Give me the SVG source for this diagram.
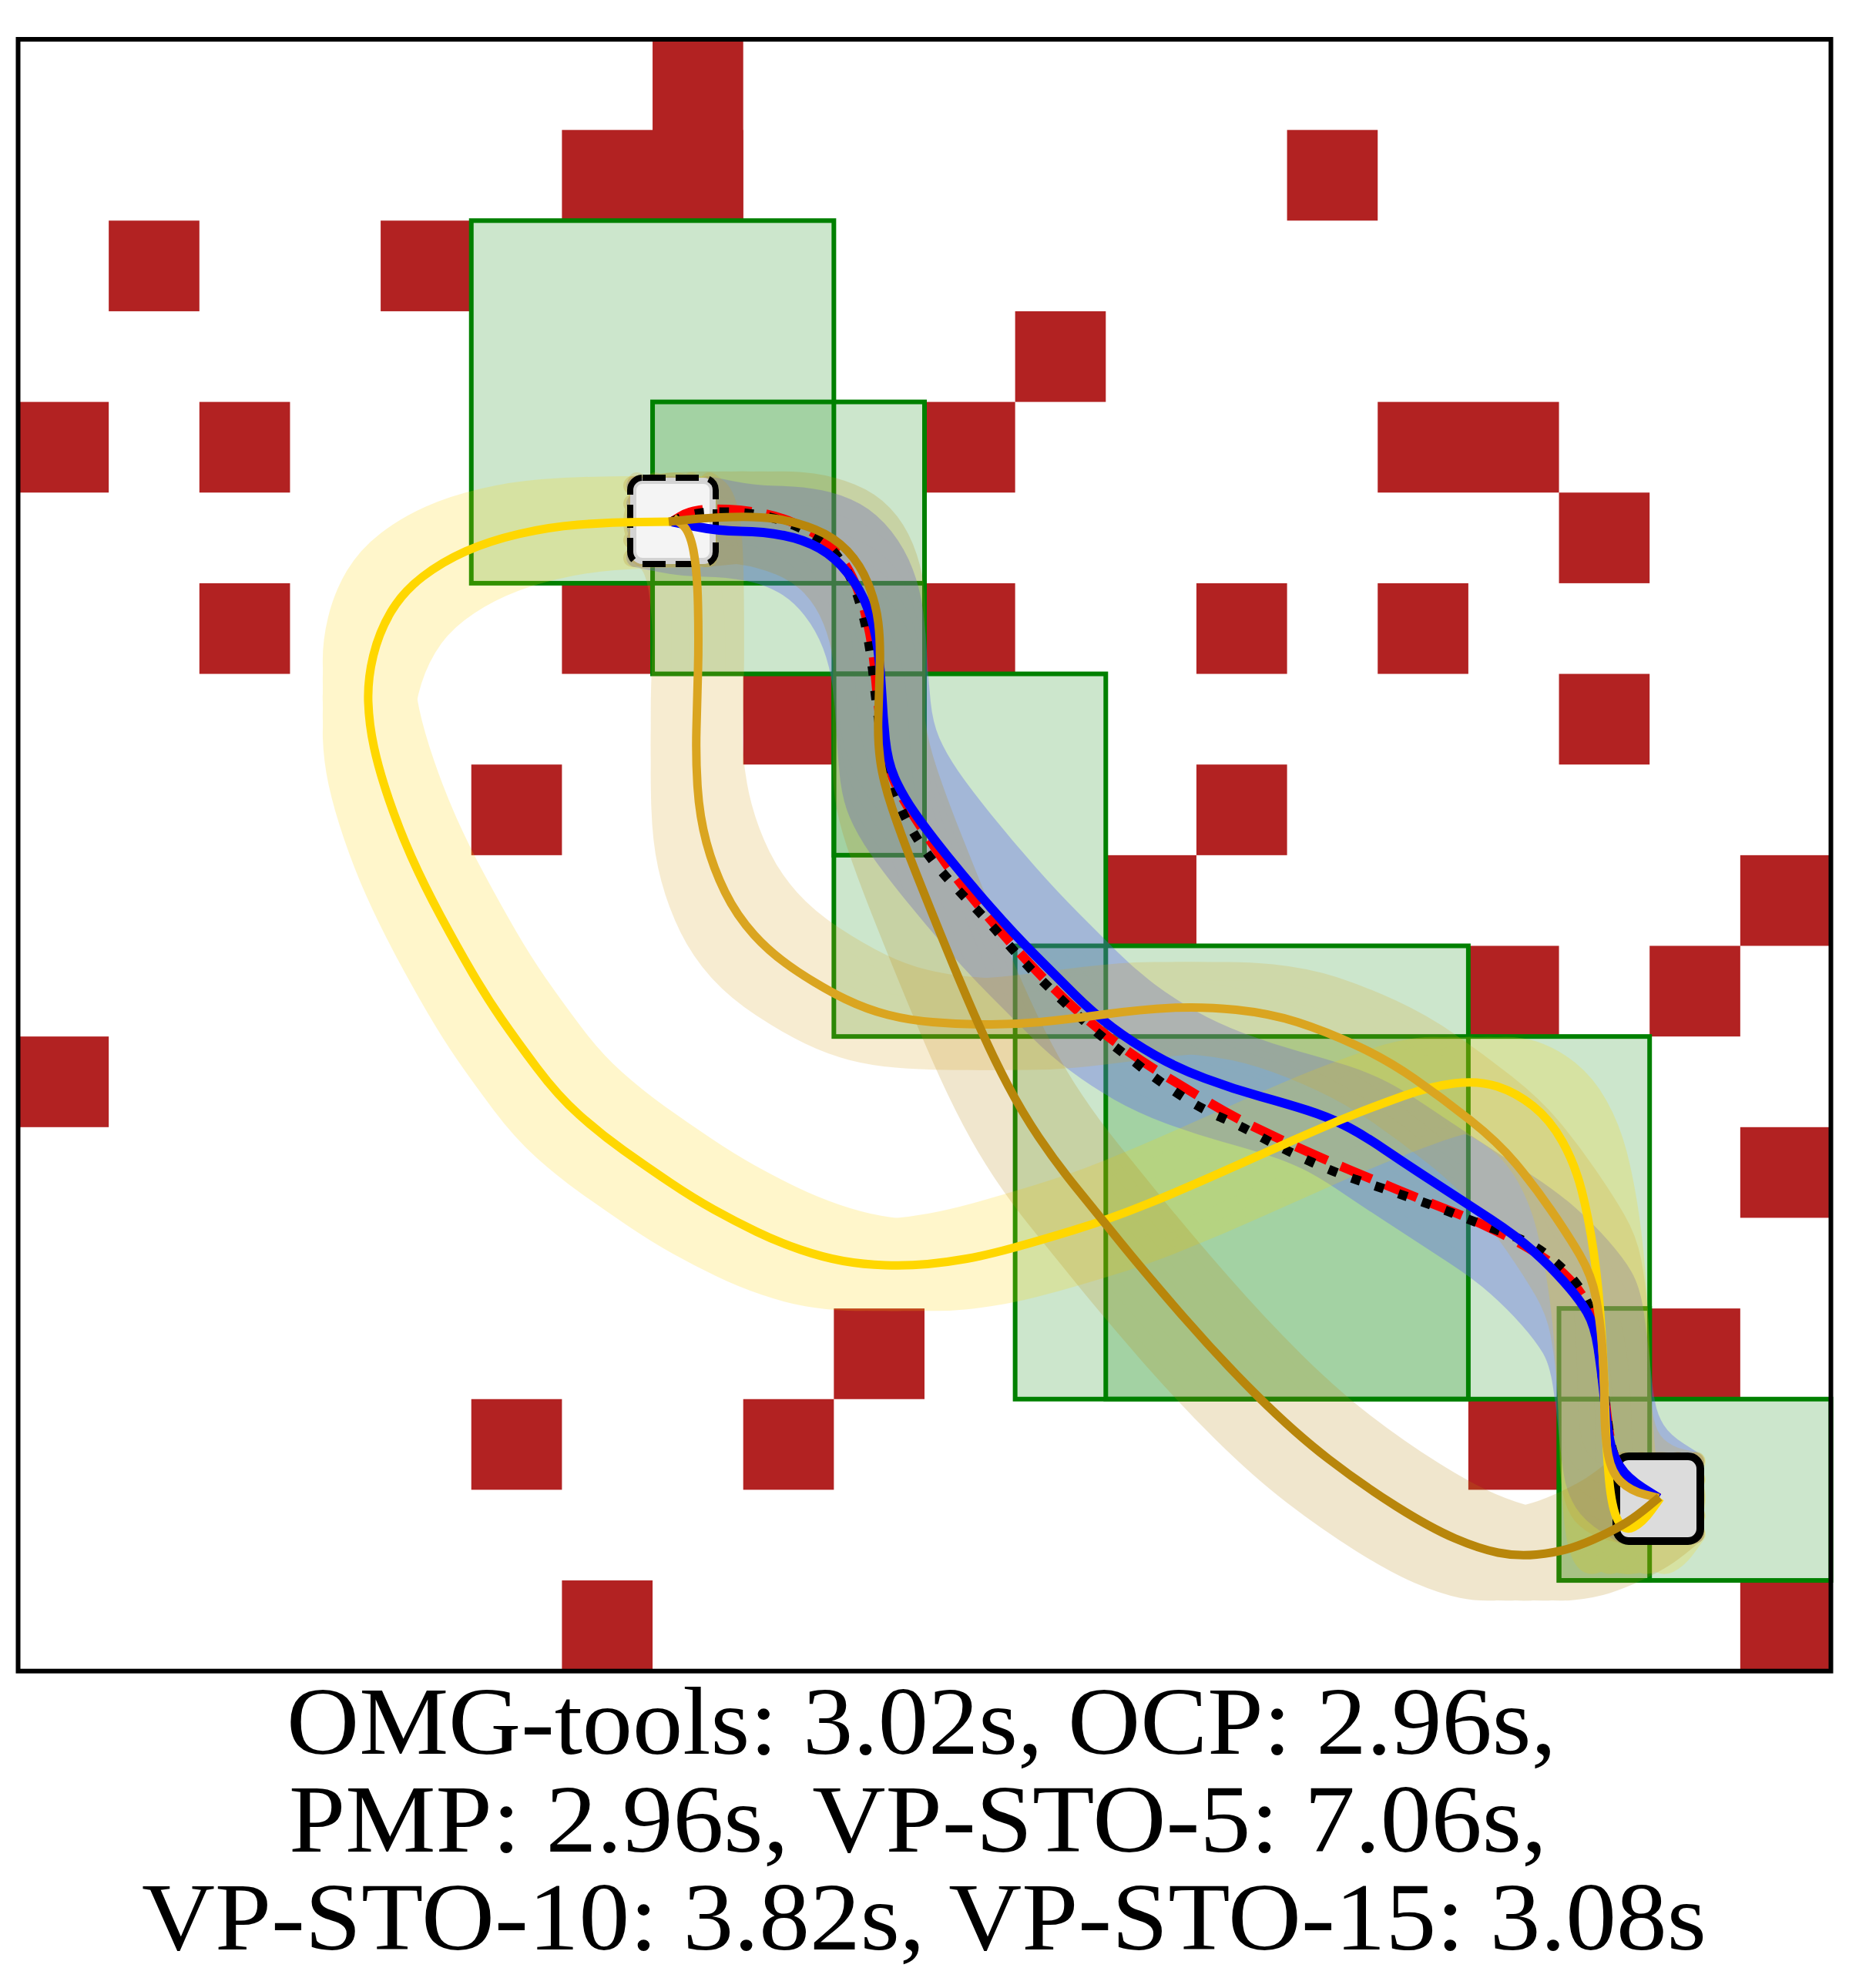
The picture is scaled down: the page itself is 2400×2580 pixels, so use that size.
<svg xmlns="http://www.w3.org/2000/svg" xmlns:xlink="http://www.w3.org/1999/xlink" width="2400" height="2580" viewBox="0 0 2400 2580">
<style>
.obs{fill:#b22222}
.free{fill:#008000;fill-opacity:0.2;stroke:#008000;stroke-width:0.051}
.band{fill:none;stroke-width:24;stroke-linecap:round;stroke-linejoin:round}
.ln{fill:none;stroke-linejoin:round}
.cap{font-family:"Liberation Serif","DejaVu Serif",serif;font-size:124px;fill:#000}
</style>
<defs>
<path id="p-blue" d="M872 677 L901.5 683 Q931 689 961.5 689.5 Q992 690 1017.5 695 Q1043 700 1063.5 711.5 Q1084 723 1100.5 744 Q1117 765 1126.5 790 Q1136 815 1139.5 842.5 Q1143 870 1144.5 900 Q1146 930 1149 959 Q1152 988 1161 1009 Q1170 1030 1186.5 1054 Q1203 1078 1230.5 1112 Q1258 1146 1287 1179 Q1316 1212 1344 1240 Q1372 1268 1395 1291 Q1418 1314 1444 1333.5 Q1470 1353 1499 1369.5 Q1528 1386 1564 1399.5 Q1600 1413 1636 1423 Q1672 1433 1697 1441 Q1722 1449 1743.5 1459.5 Q1765 1470 1797.5 1492 Q1830 1514 1865.5 1537 Q1901 1560 1934.5 1582 Q1968 1604 1990 1623.5 Q2012 1643 2031 1664.5 Q2050 1686 2060 1703 Q2070 1720 2074.5 1750 Q2079 1780 2082.5 1815 Q2086 1850 2089.5 1869 Q2093 1888 2102.5 1903 Q2112 1918 2132.5 1931 L2153 1944"/>
<path id="p-red" d="M872 677 L882.5 670.5 Q893 664 908 662 Q923 660 945 661 Q967 662 988.5 666 Q1010 670 1030 678.5 Q1050 687 1065 697.5 Q1080 708 1093 726.5 Q1106 745 1115 770 Q1124 795 1129 822.5 Q1134 850 1137 885 Q1140 920 1145 952 Q1150 984 1157.5 1005.5 Q1165 1027 1184 1056 Q1203 1085 1222 1112.5 Q1241 1140 1265 1169 Q1289 1198 1313 1225 Q1337 1252 1361 1276 Q1385 1300 1406.5 1319 Q1428 1338 1454.5 1357.5 Q1481 1377 1512 1396 Q1543 1415 1571.5 1432 Q1600 1449 1629 1463 Q1658 1477 1689 1491 Q1720 1505 1750 1517.5 Q1780 1530 1811.5 1543 Q1843 1556 1874 1568 Q1905 1580 1931.5 1592.5 Q1958 1605 1985 1620.5 Q2012 1636 2031 1654 Q2050 1672 2061 1693.5 Q2072 1715 2076 1747.5 Q2080 1780 2083.5 1815 Q2087 1850 2091 1872.5 Q2095 1895 2106.5 1909.5 Q2118 1924 2135.5 1934 L2153 1944"/>
<path id="p-black" d="M872 677 L882.5 672.5 Q893 668 908 666 Q923 664 945 664.5 Q967 665 988.5 669 Q1010 673 1030 681.5 Q1050 690 1065 700.5 Q1080 711 1092.5 729.5 Q1105 748 1113 773 Q1121 798 1126 825 Q1131 852 1134.5 886 Q1138 920 1144 957.5 Q1150 995 1159 1022.5 Q1168 1050 1184 1077.5 Q1200 1105 1220 1128.5 Q1240 1152 1262 1174.5 Q1284 1197 1307 1223.5 Q1330 1250 1352.5 1272.5 Q1375 1295 1399 1317.5 Q1423 1340 1441.5 1354 Q1460 1368 1480 1384 Q1500 1400 1528.5 1419 Q1557 1438 1583.5 1449.5 Q1610 1461 1638.5 1476.5 Q1667 1492 1700 1507 Q1733 1522 1766.5 1533 Q1800 1544 1831 1554.5 Q1862 1565 1891 1576.5 Q1920 1588 1953 1600 Q1986 1612 2003 1625 Q2020 1638 2035 1653 Q2050 1668 2060 1689 Q2070 1710 2074.5 1745 Q2079 1780 2083 1815 Q2087 1850 2091 1872.5 Q2095 1895 2106.5 1909.5 Q2118 1924 2135.5 1934 L2153 1944"/>
<path id="p-gold" d="M872 677 L830 677.5 Q788 678 750 681 Q712 684 673.5 693 Q635 702 604.5 715.5 Q574 729 548.5 748.5 Q523 768 507.5 794 Q492 820 484.5 851 Q477 882 478 911 Q479 940 485.5 970 Q492 1000 505 1038 Q518 1076 534 1112 Q550 1148 572 1189 Q594 1230 613 1262.5 Q632 1295 651 1322.5 Q670 1350 697 1386 Q724 1422 752 1447 Q780 1472 809.5 1493 Q839 1514 869.5 1534.5 Q900 1555 927 1570 Q954 1585 982 1598.5 Q1010 1612 1039.5 1622 Q1069 1632 1094.5 1636.5 Q1120 1641 1149 1642 Q1178 1643 1204 1640.5 Q1230 1638 1255 1633.5 Q1280 1629 1313 1620 Q1346 1611 1393.5 1596.5 Q1441 1582 1489 1562.5 Q1537 1543 1585 1521.5 Q1633 1500 1680.5 1479 Q1728 1458 1758.5 1446 Q1789 1434 1822.5 1422 Q1856 1410 1887.5 1406 Q1919 1402 1943.5 1410 Q1968 1418 1990 1435.5 Q2012 1453 2028 1481.5 Q2044 1510 2053 1545 Q2062 1580 2068.5 1624.5 Q2075 1669 2078.5 1724.5 Q2082 1780 2083.5 1830 Q2085 1880 2088.5 1919 Q2092 1958 2100 1973 Q2108 1988 2120 1982 Q2132 1976 2143.5 1960 L2155 1944"/>
<path id="p-goldenrod" d="M874 672 L884.5 680 Q895 688 900 714 Q905 740 906 785.5 Q907 831 906 869 Q905 907 904 945.5 Q903 984 905.5 1022 Q908 1060 917 1093.5 Q926 1127 941 1157.5 Q956 1188 979 1213.5 Q1002 1239 1035.5 1261 Q1069 1283 1097 1296.5 Q1125 1310 1152.5 1317 Q1180 1324 1210.5 1326.5 Q1241 1329 1277 1329.5 Q1313 1330 1349 1326.5 Q1385 1323 1433 1316.5 Q1481 1310 1521 1308 Q1561 1306 1604.5 1310.5 Q1648 1315 1684 1326.5 Q1720 1338 1760 1356.5 Q1800 1375 1836 1400 Q1872 1425 1908 1453.5 Q1944 1482 1967 1509.5 Q1990 1537 2012.5 1569.5 Q2035 1602 2050.5 1628.5 Q2066 1655 2071.5 1684 Q2077 1713 2079.5 1746.5 Q2082 1780 2082.5 1822.5 Q2083 1865 2087.5 1888.5 Q2092 1912 2104.5 1923.5 Q2117 1935 2135 1939.5 L2153 1944"/>
<path id="p-dgold" d="M868 677 L892.5 674.5 Q917 672 950 671 Q983 670 1008 673.5 Q1033 677 1058 687 Q1083 697 1100 715 Q1117 733 1127 758 Q1137 783 1140 808 Q1143 833 1142 866.5 Q1141 900 1140 930 Q1139 960 1142.5 986.5 Q1146 1013 1158 1049 Q1170 1085 1189 1133 Q1208 1181 1229.5 1233.5 Q1251 1286 1270 1329 Q1289 1372 1308 1408 Q1327 1444 1348.5 1476 Q1370 1508 1395 1539 Q1420 1570 1454.5 1612.5 Q1489 1655 1537 1710 Q1585 1765 1633 1812.5 Q1681 1860 1724.5 1893.5 Q1768 1927 1812.5 1955 Q1857 1983 1888.5 1996.5 Q1920 2010 1944.5 2015 Q1969 2020 1994.5 2017.5 Q2020 2015 2039 2009 Q2058 2003 2079 1993 Q2100 1983 2112.5 1975 Q2125 1967 2139.5 1955 L2154 1943"/>
</defs>
<rect width="2400" height="2580" fill="#fff"/>
<g id="obstacles" class="obs" transform="translate(23.5 51) scale(117.65)">
<rect x="7" y="0" width="1" height="2"/><rect x="6" y="1" width="2" height="1"/>
<rect x="14" y="1" width="1" height="1"/><rect x="1" y="2" width="1" height="1"/>
<rect x="4" y="2" width="1" height="1"/><rect x="11" y="3" width="1" height="1"/>
<rect x="0" y="4" width="1" height="1"/><rect x="2" y="4" width="1" height="1"/>
<rect x="10" y="4" width="1" height="1"/><rect x="15" y="4" width="2" height="1"/>
<rect x="17" y="5" width="1" height="1"/><rect x="2" y="6" width="1" height="1"/>
<rect x="6" y="6" width="1" height="1"/><rect x="10" y="6" width="1" height="1"/>
<rect x="13" y="6" width="1" height="1"/><rect x="15" y="6" width="1" height="1"/>
<rect x="8" y="7" width="1" height="1"/><rect x="17" y="7" width="1" height="1"/>
<rect x="5" y="8" width="1" height="1"/><rect x="13" y="8" width="1" height="1"/>
<rect x="12" y="9" width="1" height="1"/><rect x="19" y="9" width="1" height="1"/>
<rect x="16" y="10" width="1" height="1"/><rect x="18" y="10" width="1" height="1"/>
<rect x="0" y="11" width="1" height="1"/><rect x="19" y="12" width="1" height="1"/>
<rect x="9" y="14" width="1" height="1"/><rect x="18" y="14" width="1" height="1"/>
<rect x="5" y="15" width="1" height="1"/><rect x="8" y="15" width="1" height="1"/>
<rect x="16" y="15" width="1" height="1"/><rect x="6" y="17" width="1" height="1"/>
<rect x="19" y="17" width="1" height="1"/>
</g>
<g id="free-regions" transform="translate(23.5 51) scale(117.65)">
<rect class="free" x="5" y="2" width="4" height="4"/>
<rect class="free" x="7" y="4" width="3" height="3"/>
<rect class="free" x="9" y="6" width="1" height="3"/>
<rect class="free" x="9" y="7" width="3" height="4"/>
<rect class="free" x="11" y="10" width="5" height="5"/>
<rect class="free" x="12" y="11" width="6" height="4"/>
<rect class="free" x="17" y="14" width="1" height="3"/>
<rect class="free" x="17" y="15" width="3" height="2"/>
</g>
<g id="sweeps">
<g id="sweep-ocp" class="band" stroke="#5a63ee" opacity="0.35">
<use xlink:href="#p-blue" style="stroke-width:118"/>
<use xlink:href="#p-blue" transform="translate(-47 -47)"/><use xlink:href="#p-blue" transform="translate(-23.5 -47)"/><use xlink:href="#p-blue" transform="translate(0 -47)"/><use xlink:href="#p-blue" transform="translate(23.5 -47)"/>
<use xlink:href="#p-blue" transform="translate(47 -47)"/><use xlink:href="#p-blue" transform="translate(47 -23.5)"/><use xlink:href="#p-blue" transform="translate(47 0)"/><use xlink:href="#p-blue" transform="translate(47 23.5)"/>
<use xlink:href="#p-blue" transform="translate(47 47)"/><use xlink:href="#p-blue" transform="translate(23.5 47)"/><use xlink:href="#p-blue" transform="translate(0 47)"/><use xlink:href="#p-blue" transform="translate(-23.5 47)"/>
<use xlink:href="#p-blue" transform="translate(-47 47)"/><use xlink:href="#p-blue" transform="translate(-47 23.5)"/><use xlink:href="#p-blue" transform="translate(-47 0)"/><use xlink:href="#p-blue" transform="translate(-47 -23.5)"/>
</g>
<g id="sweep-vp5" class="band" stroke="#ffd700" opacity="0.2">
<use xlink:href="#p-gold" style="stroke-width:118"/>
<use xlink:href="#p-gold" transform="translate(-47 -47)"/><use xlink:href="#p-gold" transform="translate(-23.5 -47)"/><use xlink:href="#p-gold" transform="translate(0 -47)"/><use xlink:href="#p-gold" transform="translate(23.5 -47)"/>
<use xlink:href="#p-gold" transform="translate(47 -47)"/><use xlink:href="#p-gold" transform="translate(47 -23.5)"/><use xlink:href="#p-gold" transform="translate(47 0)"/><use xlink:href="#p-gold" transform="translate(47 23.5)"/>
<use xlink:href="#p-gold" transform="translate(47 47)"/><use xlink:href="#p-gold" transform="translate(23.5 47)"/><use xlink:href="#p-gold" transform="translate(0 47)"/><use xlink:href="#p-gold" transform="translate(-23.5 47)"/>
<use xlink:href="#p-gold" transform="translate(-47 47)"/><use xlink:href="#p-gold" transform="translate(-47 23.5)"/><use xlink:href="#p-gold" transform="translate(-47 0)"/><use xlink:href="#p-gold" transform="translate(-47 -23.5)"/>
</g>
<g id="sweep-vp10" class="band" stroke="#daa520" opacity="0.2">
<use xlink:href="#p-goldenrod" style="stroke-width:118"/>
<use xlink:href="#p-goldenrod" transform="translate(-47 -47)"/><use xlink:href="#p-goldenrod" transform="translate(-23.5 -47)"/><use xlink:href="#p-goldenrod" transform="translate(0 -47)"/><use xlink:href="#p-goldenrod" transform="translate(23.5 -47)"/>
<use xlink:href="#p-goldenrod" transform="translate(47 -47)"/><use xlink:href="#p-goldenrod" transform="translate(47 -23.5)"/><use xlink:href="#p-goldenrod" transform="translate(47 0)"/><use xlink:href="#p-goldenrod" transform="translate(47 23.5)"/>
<use xlink:href="#p-goldenrod" transform="translate(47 47)"/><use xlink:href="#p-goldenrod" transform="translate(23.5 47)"/><use xlink:href="#p-goldenrod" transform="translate(0 47)"/><use xlink:href="#p-goldenrod" transform="translate(-23.5 47)"/>
<use xlink:href="#p-goldenrod" transform="translate(-47 47)"/><use xlink:href="#p-goldenrod" transform="translate(-47 23.5)"/><use xlink:href="#p-goldenrod" transform="translate(-47 0)"/><use xlink:href="#p-goldenrod" transform="translate(-47 -23.5)"/>
</g>
<g id="sweep-vp15" class="band" stroke="#b8860b" opacity="0.2">
<use xlink:href="#p-dgold" style="stroke-width:118"/>
<use xlink:href="#p-dgold" transform="translate(-47 -47)"/><use xlink:href="#p-dgold" transform="translate(-23.5 -47)"/><use xlink:href="#p-dgold" transform="translate(0 -47)"/><use xlink:href="#p-dgold" transform="translate(23.5 -47)"/>
<use xlink:href="#p-dgold" transform="translate(47 -47)"/><use xlink:href="#p-dgold" transform="translate(47 -23.5)"/><use xlink:href="#p-dgold" transform="translate(47 0)"/><use xlink:href="#p-dgold" transform="translate(47 23.5)"/>
<use xlink:href="#p-dgold" transform="translate(47 47)"/><use xlink:href="#p-dgold" transform="translate(23.5 47)"/><use xlink:href="#p-dgold" transform="translate(0 47)"/><use xlink:href="#p-dgold" transform="translate(-23.5 47)"/>
<use xlink:href="#p-dgold" transform="translate(-47 47)"/><use xlink:href="#p-dgold" transform="translate(-47 23.5)"/><use xlink:href="#p-dgold" transform="translate(-47 0)"/><use xlink:href="#p-dgold" transform="translate(-47 -23.5)"/>
</g>
</g>
<g id="start">
<rect x="822" y="624" width="103" height="104" rx="12" fill="#f4f4f4" stroke="#d3d3d3" stroke-width="8"/>
<rect x="818" y="620" width="111" height="112" rx="16" fill="none" stroke="#000" stroke-width="8" stroke-dasharray="30 13"/>
</g>
<g id="goal">
<rect x="2098" y="1890" width="109" height="110" rx="16" fill="#dcdcdc" stroke="#000" stroke-width="10"/>
</g>
<g id="trajectories">
<use xlink:href="#p-red" class="ln" stroke="#ff0000" stroke-width="12" stroke-dasharray="44 19"/>
<use xlink:href="#p-black" class="ln" stroke="#000" stroke-width="12" stroke-dasharray="12 20"/>
<use xlink:href="#p-blue" class="ln" stroke="#0000ff" stroke-width="12"/>
<use xlink:href="#p-gold" class="ln" stroke="#ffd700" stroke-width="11"/>
<use xlink:href="#p-goldenrod" class="ln" stroke="#daa520" stroke-width="11"/>
<use xlink:href="#p-dgold" class="ln" stroke="#b8860b" stroke-width="11"/>
</g>
<rect id="frame" x="23.5" y="51" width="2353" height="2117.7" fill="none" stroke="#000" stroke-width="6"/>
<g id="caption">
<text class="cap"><tspan x="372" y="2276" textLength="1648" lengthAdjust="spacingAndGlyphs">OMG-tools: 3.02s, OCP: 2.96s,</tspan><tspan x="375" y="2403" textLength="1633" lengthAdjust="spacingAndGlyphs">PMP: 2.96s, VP-STO-5: 7.06s,</tspan><tspan x="184" y="2530" textLength="2031" lengthAdjust="spacingAndGlyphs">VP-STO-10: 3.82s, VP-STO-15: 3.08s</tspan></text>
</g>
</svg>
